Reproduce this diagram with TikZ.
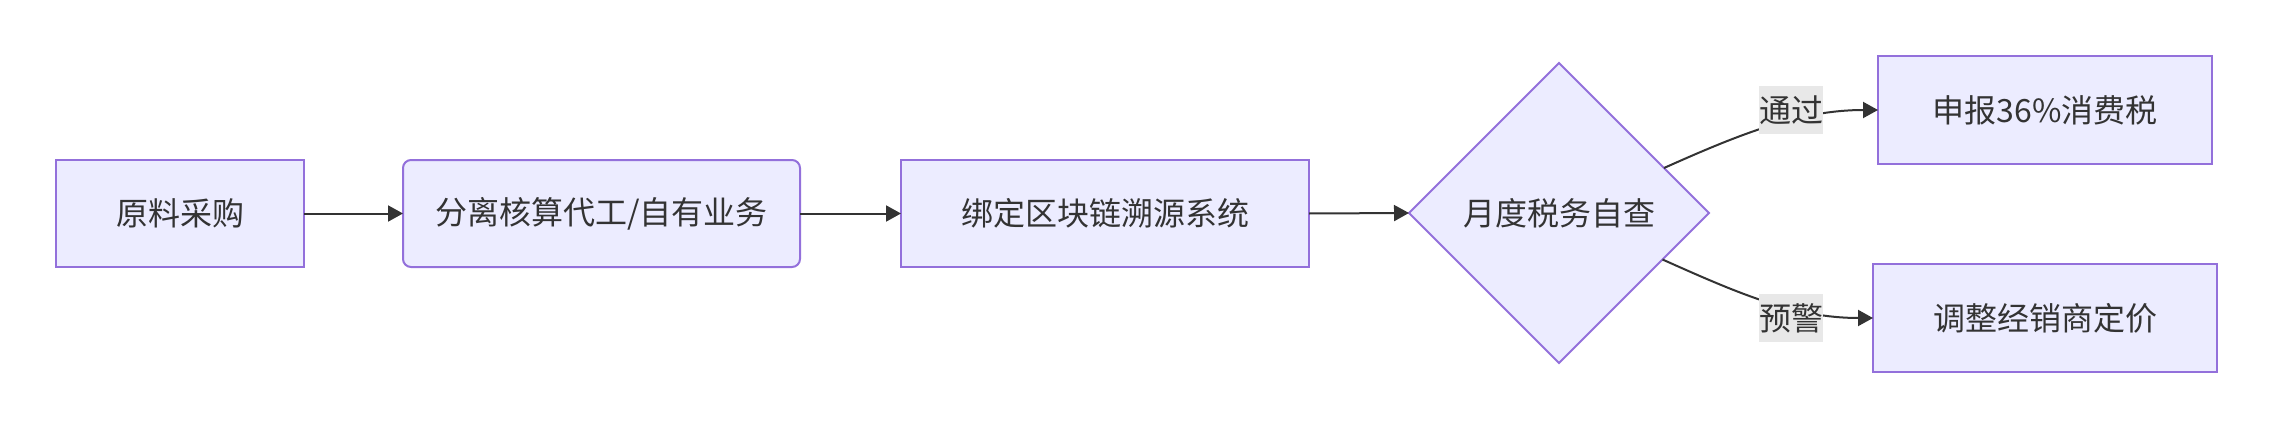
\documentclass[tikz,border=0pt]{standalone}
\usepackage{fontspec}
\setmainfont{Noto Sans CJK SC}
\usetikzlibrary{shapes.geometric,arrows.meta,calc}
\definecolor{nodefill}{HTML}{ECECFF}
\definecolor{nodeline}{HTML}{9370DB}
\definecolor{ink}{HTML}{333333}
\definecolor{lblbg}{HTML}{E8E8E8}
\begin{document}
\begin{tikzpicture}[x=1pt,y=-1pt,
  every node/.style={font=\fontsize{32}{38}\selectfont, text=ink},
  box/.style={draw=nodeline, fill=nodefill, line width=2pt, minimum height=107pt, inner sep=0pt, outer sep=0pt},
  rbox/.style={box, rounded corners=8pt},
  dia/.style={diamond, draw=nodeline, fill=nodefill, line width=2pt, minimum width=300pt, minimum height=300pt, inner sep=0pt, outer sep=0pt},
  lbl/.style={fill=lblbg, inner sep=0pt, minimum width=64pt, minimum height=48pt},
  edge/.style={draw=ink, line width=2pt, -{Triangle[length=15pt,width=16pt]}}]
\useasboundingbox (0,0) rectangle (2272,428);
\node[box, minimum width=248pt] (b1) at (180,213.5) {原料采购};
\node[rbox, minimum width=397pt] (b2) at (601.5,213.5) {分离核算代工/自有业务};
\node[box, minimum width=408pt] (b3) at (1105,213.5) {绑定区块链溯源系统};
\node[dia] (d) at (1559,213) {月度税务自查};
\node[box, minimum width=334pt, minimum height=108pt] (b4) at (2045,110) {申报36\%消费税};
\node[box, minimum width=344pt, minimum height=108pt] (b5) at (2045,318) {调整经销商定价};
\draw[edge] (b1) -- (b2);
\draw[edge] (b2) -- (b3);
\draw[edge] (b3.east) -- (d.west);
\coordinate (s1) at ($(d.north)!0.7!(d.east)$);
\coordinate (s2) at ($(d.east)!0.31!(d.south)$);
\draw[edge] (s1) .. controls +(76,-34) and +(-78,0) .. (b4.west);
\draw[edge] (s2) .. controls +(76,34) and +(-78,0) .. (b5.west);
\node[lbl] (l1) at (1791,110) {通过};
\node[lbl] (l2) at (1791,318) {预警};
\end{tikzpicture}
\end{document}
